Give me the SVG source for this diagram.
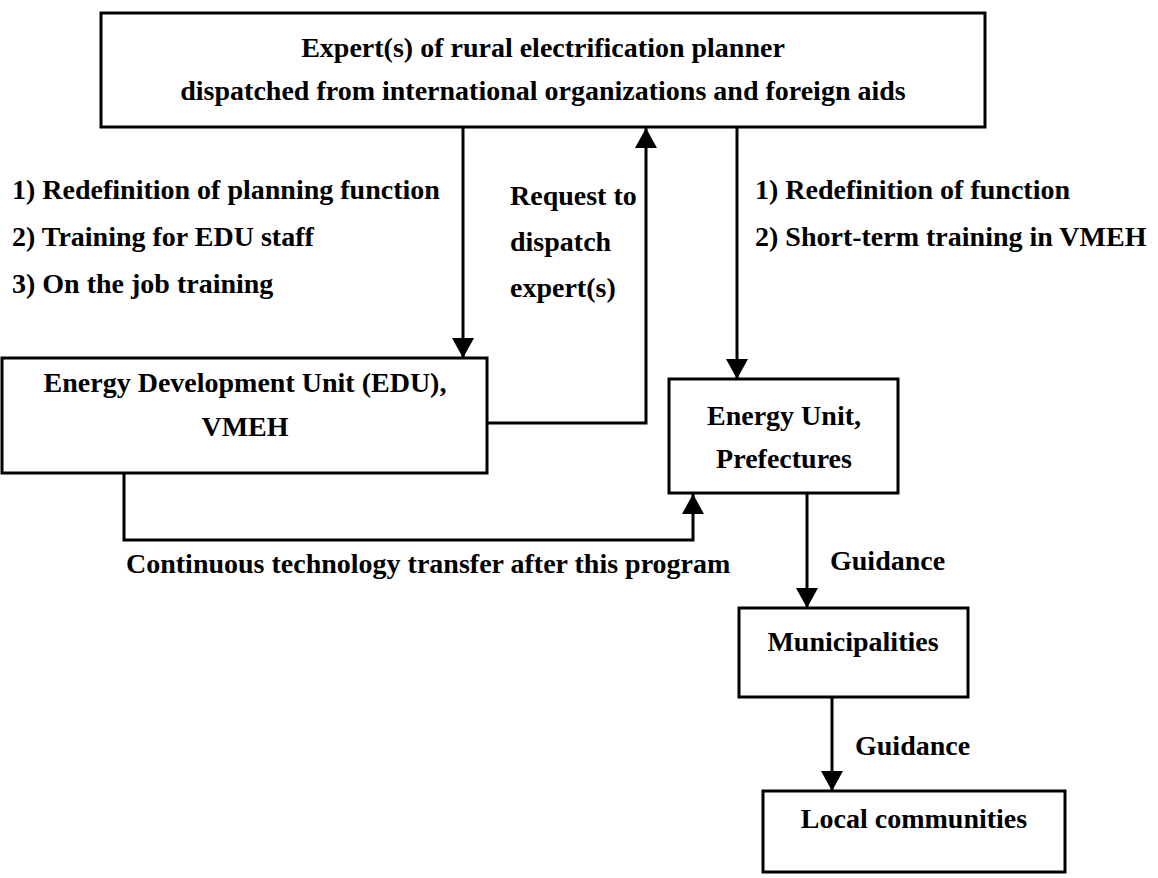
<svg xmlns="http://www.w3.org/2000/svg" width="1158" height="878" viewBox="0 0 1158 878">
  <style>
    .box { fill: #ffffff; stroke: #000000; stroke-width: 3; }
    .txt { font-family: "Liberation Serif", "Times New Roman", serif; font-size: 28px; font-weight: bold; fill: #000000; }
    .mid { text-anchor: middle; }
    .wire { fill: none; stroke: #000000; stroke-width: 3; }
  </style>
  <defs>
    <marker id="head" markerUnits="userSpaceOnUse" markerWidth="22" markerHeight="22" viewBox="0 0 20 22" refX="20" refY="11" orient="auto">
      <path d="M0,0 L20,11 L0,22 z" fill="#000000"/>
    </marker>
  </defs>

  <rect width="1158" height="878" fill="#ffffff"/>

  <!-- nodes -->
  <g id="expert">
    <rect class="box" x="101" y="13" width="884" height="114"/>
    <text class="txt mid" x="543" y="57">Expert(s) of rural electrification planner</text>
    <text class="txt mid" x="543" y="100">dispatched from international organizations and foreign aids</text>
  </g>

  <g id="edu">
    <rect class="box" x="2" y="358" width="485" height="115"/>
    <text class="txt mid" x="245" y="392">Energy Development Unit (EDU),</text>
    <text class="txt mid" x="245" y="436">VMEH</text>
  </g>

  <g id="energy-unit">
    <rect class="box" x="669" y="379" width="229" height="114"/>
    <text class="txt mid" x="784" y="425">Energy Unit,</text>
    <text class="txt mid" x="784" y="468">Prefectures</text>
  </g>

  <g id="municipalities">
    <rect class="box" x="739" y="608" width="229" height="89"/>
    <text class="txt mid" x="853" y="651">Municipalities</text>
  </g>

  <g id="local-communities">
    <rect class="box" x="763" y="791" width="302" height="81"/>
    <text class="txt mid" x="914" y="828">Local communities</text>
  </g>

  <!-- connectors -->
  <g id="connectors">
    <line class="wire" x1="463" y1="127" x2="463" y2="358" marker-end="url(#head)"/>
    <polyline class="wire" points="487,423 646,423 646,128" marker-end="url(#head)"/>
    <line class="wire" x1="737" y1="127" x2="737" y2="379" marker-end="url(#head)"/>
    <polyline class="wire" points="124,473 124,540 693,540 693,494" marker-end="url(#head)"/>
    <line class="wire" x1="807" y1="493" x2="807" y2="608" marker-end="url(#head)"/>
    <line class="wire" x1="832" y1="697" x2="832" y2="791" marker-end="url(#head)"/>
  </g>

  <!-- connector labels -->
  <g id="labels">
    <text class="txt" x="12" y="199">1) Redefinition of planning function</text>
    <text class="txt" x="12" y="246">2) Training for EDU staff</text>
    <text class="txt" x="12" y="293">3) On the job training</text>

    <text class="txt" x="510" y="205">Request to</text>
    <text class="txt" x="510" y="251">dispatch</text>
    <text class="txt" x="510" y="297">expert(s)</text>

    <text class="txt" x="755" y="199">1) Redefinition of function</text>
    <text class="txt" x="755" y="246">2) Short-term training in VMEH</text>

    <text class="txt" x="126" y="573">Continuous technology transfer after this program</text>
    <text class="txt" x="830" y="570">Guidance</text>
    <text class="txt" x="855" y="755">Guidance</text>
  </g>
</svg>
